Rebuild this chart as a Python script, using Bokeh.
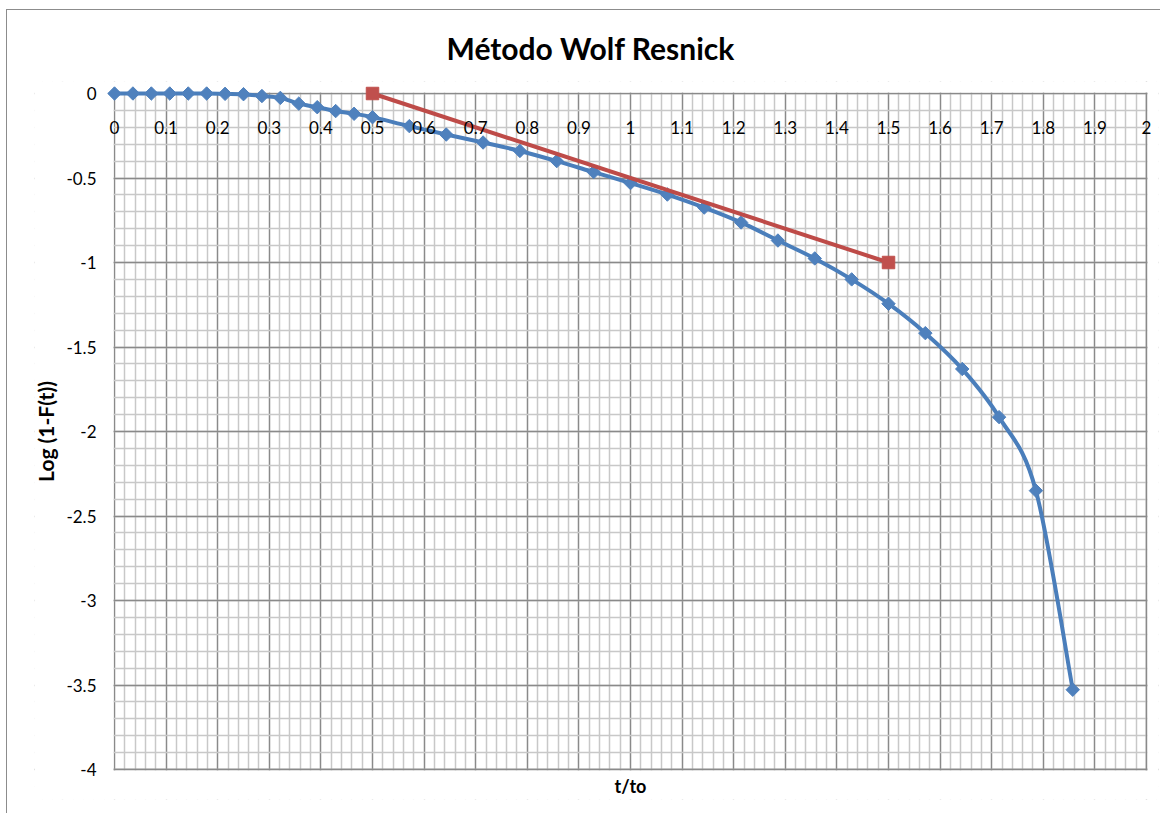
import numpy as np
from bokeh.plotting import figure
from bokeh.models import (Range1d, FixedTicker, SingleIntervalTicker, Title,
                          BoxAnnotation, Span, Label)
from bokeh.embed import file_html
from bokeh.resources import INLINE

# ---------------- data ----------------
title_text = "Método Wolf Resnick"
x_label = "t/to"
y_label = "Log (1-F(t))"

t_over_to = [0.0, 0.0357, 0.0714, 0.1071, 0.1429, 0.1786, 0.2143, 0.25,
             0.2857, 0.3214, 0.3571, 0.3929, 0.4286, 0.4643, 0.5,
             0.5714, 0.6429, 0.7143, 0.7857, 0.8571, 0.9286, 1.0,
             1.0714, 1.1429, 1.2143, 1.2857, 1.3571, 1.4286, 1.5,
             1.5714, 1.6429, 1.7143, 1.7857, 1.8571]
log_1_minus_F = [0.0, 0.0, 0.0, 0.0, 0.0, 0.0, -0.002, -0.004,
                 -0.015, -0.026, -0.060, -0.081, -0.104, -0.120, -0.140,
                 -0.193, -0.243, -0.290, -0.340, -0.400, -0.465, -0.530,
                 -0.598, -0.675, -0.763, -0.870, -0.976, -1.100, -1.244,
                 -1.418, -1.630, -1.915, -2.350, -3.528]

fit_x = [0.5, 1.5]
fit_y = [0.0, -1.0]

x_tick_values = [0.0, 0.1, 0.2, 0.3, 0.4, 0.5, 0.6, 0.7, 0.8, 0.9, 1.0,
                 1.1, 1.2, 1.3, 1.4, 1.5, 1.6, 1.7, 1.8, 1.9, 2.0]
x_tick_labels = ["0", "0.1", "0.2", "0.3", "0.4", "0.5", "0.6", "0.7", "0.8",
                 "0.9", "1", "1.1", "1.2", "1.3", "1.4", "1.5", "1.6", "1.7",
                 "1.8", "1.9", "2"]
y_tick_values = [0.0, -0.5, -1.0, -1.5, -2.0, -2.5, -3.0, -3.5, -4.0]
y_tick_labels = ["0", "-0.5", "-1", "-1.5", "-2", "-2.5", "-3", "-3.5", "-4"]

X_MIN, X_MAX = 0.0, 2.0
Y_MIN, Y_MAX = -4.0, 0.0

# ---------------- styling ----------------
FONT = "Lato"
BLUE_LINE = "#4A7EBB"
BLUE_MARK = "#4F81BD"
RED_LINE = "#BE4B48"
RED_MARK = "#C0504D"
MAJOR = "#8a8a8a"
MINOR = "#c8c8c8"

PLOT_W = 1032   # pixels for the x span 0..2
PLOT_H = 676    # pixels for the y span -4..0
PAD_L = 80      # room for y tick labels and y title (axis drawn at x=0)
PAD_R = 12      # room for the last x tick label
PAD_T = 12      # room so edge markers / labels are not clipped
PAD_B = 30      # room for the lowest y tick label and the x title
px_x = (X_MAX - X_MIN) / PLOT_W
px_y = (Y_MAX - Y_MIN) / PLOT_H

p = figure(frame_width=PLOT_W + PAD_L + PAD_R,
           frame_height=PLOT_H + PAD_T + PAD_B,
           x_range=Range1d(X_MIN - PAD_L * px_x, X_MAX + PAD_R * px_x),
           y_range=Range1d(Y_MIN - PAD_B * px_y, Y_MAX + PAD_T * px_y),
           min_border_left=27, min_border_right=2,
           min_border_top=71, min_border_bottom=14,
           output_backend="svg", toolbar_location=None,
           background_fill_color="white", border_fill_color="white",
           outline_line_color=None,
           styles={"margin-left": "6px", "margin-top": "9px",
                   "border-left": "1px solid #8c8c8c",
                   "border-top": "1px solid #8c8c8c"})

p.title = Title(text=title_text, align="left", offset=412, standoff=32,
                text_font=FONT, text_font_size="30px", text_font_style="bold",
                text_color="black")

# grids
p.xgrid.ticker = SingleIntervalTicker(interval=0.1, num_minor_ticks=5)
p.ygrid.ticker = SingleIntervalTicker(interval=0.5, num_minor_ticks=5)
for g in (p.xgrid, p.ygrid):
    g.grid_line_color = MAJOR
    g.grid_line_width = 1.3
    g.minor_grid_line_color = MINOR
    g.minor_grid_line_width = 1.5

# right / bottom edges of plot area
p.add_layout(Span(location=X_MAX, dimension="height", line_color=MAJOR,
                  line_width=1.5, level="underlay"))
p.add_layout(Span(location=Y_MIN, dimension="width", line_color=MAJOR,
                  line_width=1.5, level="underlay"))
# blank the padding strips around the plot area (reach a little past the frame)
WHITE = dict(fill_color="white", fill_alpha=1.0, line_color=None,
             level="underlay")
X_OUT_L = X_MIN - (PAD_L + 6) * px_x
X_OUT_R = X_MAX + (PAD_R + 6) * px_x
Y_OUT_T = Y_MAX + (PAD_T + 6) * px_y
Y_OUT_B = Y_MIN - (PAD_B + 6) * px_y
p.add_layout(BoxAnnotation(bottom=Y_MAX + 1.0 * px_y, top=Y_OUT_T,
                           left=X_OUT_L, right=X_OUT_R, **WHITE))
p.add_layout(BoxAnnotation(top=Y_MIN - 1.0 * px_y, bottom=Y_OUT_B,
                           left=X_OUT_L, right=X_OUT_R, **WHITE))
p.add_layout(BoxAnnotation(right=X_MIN - 1.0 * px_x, left=X_OUT_L,
                           top=Y_OUT_T, bottom=Y_OUT_B, **WHITE))
p.add_layout(BoxAnnotation(left=X_MAX + 1.0 * px_x, right=X_OUT_R,
                           top=Y_OUT_T, bottom=Y_OUT_B, **WHITE))

# axes (crossing at the origin)
xa = p.xaxis[0]
xa.ticker = FixedTicker(ticks=x_tick_values)
xa.major_label_overrides = dict(zip(x_tick_values, x_tick_labels))
xa.fixed_location = 0
ya = p.yaxis[0]
ya.ticker = FixedTicker(ticks=y_tick_values)
ya.major_label_overrides = dict(zip(y_tick_values, y_tick_labels))
ya.fixed_location = 0
for ax in (xa, ya):
    ax.axis_line_color = None
    ax.major_tick_line_color = None
    ax.minor_tick_line_color = None
    ax.major_tick_in = 0
    ax.major_tick_out = 0
    ax.minor_tick_in = 0
    ax.minor_tick_out = 0
    ax.major_label_text_font = FONT
    ax.major_label_text_font_size = "17px"
    ax.major_label_text_color = "black"
xa.major_label_standoff = 27
ya.major_label_standoff = 18

# axis titles
p.add_layout(Label(x=X_MIN - 69 * px_x, y=(Y_MIN + Y_MAX) / 2, text=y_label,
                   angle=np.pi / 2, text_align="center",
                   text_baseline="middle", text_font=FONT,
                   text_font_size="21px", text_font_style="bold",
                   text_color="black"))
p.add_layout(Label(x=(X_MIN + X_MAX) / 2, y=Y_MIN - 16 * px_y, text=x_label,
                   text_align="center", text_baseline="middle",
                   text_font=FONT, text_font_size="18px",
                   text_font_style="bold", text_color="black"))

# smoothed blue series (cubic Bezier through the points)
x = np.asarray(t_over_to, dtype=float)
y = np.asarray(log_1_minus_F, dtype=float)
n = len(x)
xp = np.concatenate([[x[0]], x, [x[-1]]])
yp = np.concatenate([[y[0]], y, [y[-1]]])
cx0 = xp[1:n] + (xp[2:n + 1] - xp[0:n - 1]) / 6.0
cy0 = yp[1:n] + (yp[2:n + 1] - yp[0:n - 1]) / 6.0
cx1 = xp[2:n + 1] - (xp[3:n + 2] - xp[1:n]) / 6.0
cy1 = yp[2:n + 1] - (yp[3:n + 2] - yp[1:n]) / 6.0
p.bezier(x0=x[:-1], y0=y[:-1], x1=x[1:], y1=y[1:],
         cx0=cx0, cy0=cy0, cx1=cx1, cy1=cy1,
         line_color=BLUE_LINE, line_width=4, line_cap="round")
p.scatter(x, y, marker="square", angle=np.pi / 4, size=9.5,
          fill_color=BLUE_MARK, line_color=BLUE_MARK)

# red reference line
p.line(fit_x, fit_y, line_color=RED_LINE, line_width=4)
p.scatter(fit_x, fit_y, marker="square", size=12.5,
          fill_color=RED_MARK, line_color=RED_MARK)

open("out.html", "w").write(file_html(p, INLINE))
